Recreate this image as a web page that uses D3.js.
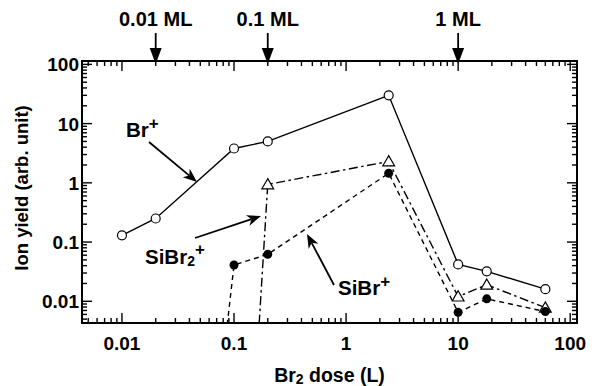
<!DOCTYPE html>
<html lang="en">
  <head>
    <meta charset="UTF-8" />
    <title>Ion yield vs Br2 dose</title>
    <style>
      body {
        margin: 0;
        padding: 0;
        background-color: #ffffff;
      }
      svg text {
        font-family: "Liberation Sans", Arial, sans-serif;
        font-weight: bold;
        fill: #000;
      }
    </style>
  </head>
  <body>
    <div id="plot"></div>

    <script src="https://d3js.org/d3.v7.min.js"></script>
    <script>
      // values (dose in L, yield in arb. unit)
      const doseBr = [0.01, 0.02, 0.1, 0.2, 2.4, 10, 18, 60];
      const brPlus = [0.13, 0.25, 3.8, 5.0, 30, 0.042, 0.032, 0.016];

      // first point of each Si series lies below the axis (line enters from bottom)
      const doseSiBr2 = [0.16, 0.2, 2.4, 10, 18, 60];
      const siBr2Plus = [0.001, 0.94, 2.3, 0.012, 0.019, 0.0078];

      const doseSiBr = [0.08, 0.1, 0.2, 2.4, 10, 18, 60];
      const siBrPlus = [0.001, 0.041, 0.062, 1.45, 0.0065, 0.011, 0.0067];

      const xTickValues = [0.01, 0.1, 1, 10, 100];
      const xTickLabels = ["0.01", "0.1", "1", "10", "100"];
      const yTickValues = [0.01, 0.1, 1, 10, 100];
      const yTickLabels = ["0.01", "0.1", "1", "10", "100"];

      const mlDose = [0.02, 0.2, 10];
      const mlLabels = ["0.01 ML", "0.1 ML", "1 ML"];

      const width = 592,
        height = 386;
      const pLeft = 82,
        pRight = 577,
        pTop = 61,
        pBottom = 323;

      const x = d3.scaleLog().domain([0.0044, 115]).range([pLeft, pRight]);
      const y = d3.scaleLog().domain([0.0043, 114]).range([pBottom, pTop]);

      const svg = d3
        .select("#plot")
        .append("svg")
        .attr("width", width)
        .attr("height", height);

      svg
        .append("clipPath")
        .attr("id", "clip")
        .append("rect")
        .attr("x", pLeft)
        .attr("y", pTop)
        .attr("width", pRight - pLeft)
        .attr("height", pBottom - pTop);

      // minor + major tick values inside a domain
      function logTicks(domain) {
        const out = [];
        for (let e = -3; e <= 2; e++) {
          for (let k = 1; k <= 9; k++) {
            const v = k * Math.pow(10, e);
            if (v >= domain[0] && v <= domain[1]) out.push({ v, major: k === 1 });
          }
        }
        return out;
      }

      const ticks = svg.append("g").attr("stroke", "#000").attr("stroke-width", 1.4);
      const majorLen = 10,
        minorLen = 5;

      logTicks(x.domain()).forEach((t) => {
        const px = x(t.v);
        const len = t.major ? majorLen : minorLen;
        ticks.append("line").attr("x1", px).attr("x2", px).attr("y1", pBottom).attr("y2", pBottom - len);
        ticks.append("line").attr("x1", px).attr("x2", px).attr("y1", pTop).attr("y2", pTop + len);
      });
      logTicks(y.domain()).forEach((t) => {
        const py = y(t.v);
        const len = t.major ? majorLen : minorLen;
        ticks.append("line").attr("x1", pLeft).attr("x2", pLeft + len).attr("y1", py).attr("y2", py);
        ticks.append("line").attr("x1", pRight).attr("x2", pRight - len).attr("y1", py).attr("y2", py);
      });

      svg
        .append("rect")
        .attr("x", pLeft)
        .attr("y", pTop)
        .attr("width", pRight - pLeft)
        .attr("height", pBottom - pTop)
        .attr("fill", "none")
        .attr("stroke", "#000")
        .attr("stroke-width", 2);

      // tick labels
      svg
        .selectAll("text.xtick")
        .data(xTickValues)
        .enter()
        .append("text")
        .attr("class", "xtick")
        .attr("x", (d) => x(d))
        .attr("y", 350)
        .attr("text-anchor", "middle")
        .style("font-size", "19px")
        .text((d, i) => xTickLabels[i]);

      svg
        .selectAll("text.ytick")
        .data(yTickValues)
        .enter()
        .append("text")
        .attr("class", "ytick")
        .attr("x", 79)
        .attr("y", (d) => y(d) + 7)
        .attr("text-anchor", "end")
        .style("font-size", "19px")
        .text((d, i) => yTickLabels[i]);

      // axis titles
      const xt = svg
        .append("text")
        .attr("x", (pLeft + pRight) / 2)
        .attr("y", 382)
        .attr("text-anchor", "middle")
        .style("font-size", "19.5px");
      xt.append("tspan").text("Br");
      xt.append("tspan").attr("dy", 2).style("font-size", "14px").text("2");
      xt.append("tspan").attr("dy", -2).text(" dose (L)");

      svg
        .append("text")
        .attr("transform", "translate(28,188) rotate(-90)")
        .attr("text-anchor", "middle")
        .style("font-size", "18.5px")
        .text("Ion yield (arb. unit)");

      // series lines
      const line = d3
        .line()
        .x((d) => x(d[0]))
        .y((d) => y(d[1]));

      const series = [
        { xs: doseBr, ys: brPlus, dash: null, marker: "open" },
        { xs: doseSiBr2, ys: siBr2Plus, dash: "9,3.5,2.5,3.5", marker: "tri" },
        { xs: doseSiBr, ys: siBrPlus, dash: "5,4", marker: "dot" },
      ];

      const plot = svg.append("g").attr("clip-path", "url(#clip)");

      series.forEach((s) => {
        const pts = s.xs.map((d, i) => [d, s.ys[i]]);
        plot
          .append("path")
          .attr("d", line(pts))
          .attr("fill", "none")
          .attr("stroke", "#000")
          .attr("stroke-width", 1.4)
          .attr("stroke-dasharray", s.dash);
      });

      series.forEach((s) => {
        const pts = s.xs
          .map((d, i) => [d, s.ys[i]])
          .filter((p) => p[1] >= y.domain()[0]);
        const g = svg.append("g");
        if (s.marker === "open") {
          g.selectAll("circle")
            .data(pts)
            .enter()
            .append("circle")
            .attr("cx", (d) => x(d[0]))
            .attr("cy", (d) => y(d[1]))
            .attr("r", 4.5)
            .attr("fill", "#fff")
            .attr("stroke", "#000")
            .attr("stroke-width", 1.2);
        } else if (s.marker === "dot") {
          g.selectAll("circle")
            .data(pts)
            .enter()
            .append("circle")
            .attr("cx", (d) => x(d[0]))
            .attr("cy", (d) => y(d[1]))
            .attr("r", 4.5)
            .attr("fill", "#000");
        } else {
          g.selectAll("path")
            .data(pts)
            .enter()
            .append("path")
            .attr("d", d3.symbol(d3.symbolTriangle, 60))
            .attr("transform", (d) => `translate(${x(d[0])},${y(d[1]) + 1})`)
            .attr("fill", "#fff")
            .attr("stroke", "#000")
            .attr("stroke-width", 1.2);
        }
      });

      // arrow with notched filled head
      function arrow(x1, y1, x2, y2) {
        const a = Math.atan2(y2 - y1, x2 - x1);
        const L = 14,
          W = 5.5,
          N = 10;
        const bx = x2 - L * Math.cos(a),
          by = y2 - L * Math.sin(a);
        const nx = x2 - N * Math.cos(a),
          ny = y2 - N * Math.sin(a);
        const px = -Math.sin(a),
          py = Math.cos(a);
        svg
          .append("line")
          .attr("x1", x1)
          .attr("y1", y1)
          .attr("x2", nx)
          .attr("y2", ny)
          .attr("stroke", "#000")
          .attr("stroke-width", 1.8);
        svg
          .append("path")
          .attr(
            "d",
            `M${x2},${y2}L${bx + W * px},${by + W * py}L${nx},${ny}L${bx - W * px},${by - W * py}Z`
          )
          .attr("fill", "#000");
      }

      // series annotations
      function ionLabel(tx, ty, base, sub) {
        const t = svg.append("text").attr("x", tx).attr("y", ty).style("font-size", "20.5px");
        t.append("tspan").text(base);
        if (sub) {
          t.append("tspan").attr("dy", 2).style("font-size", "14px").text(sub);
          t.append("tspan").attr("dy", -11).style("font-size", "17px").text("+");
        } else {
          t.append("tspan").attr("dy", -8).style("font-size", "17px").text("+");
        }
      }

      ionLabel(126, 137, "Br");
      arrow(149, 142, 197, 182);

      ionLabel(145, 264, "SiBr", "2");
      arrow(195, 238, 261, 216);

      ionLabel(338, 295, "SiBr");
      arrow(334, 285, 307, 234);

      // monolayer markers on top axis
      mlDose.forEach((d, i) => {
        const px = x(d);
        svg
          .append("line")
          .attr("x1", px)
          .attr("x2", px)
          .attr("y1", 33)
          .attr("y2", 52)
          .attr("stroke", "#000")
          .attr("stroke-width", 1.8);
        svg
          .append("path")
          .attr("d", `M${px - 6},${48}L${px + 6},${48}L${px},${64}Z`)
          .attr("fill", "#000");
        svg
          .append("text")
          .attr("x", px)
          .attr("y", 26)
          .attr("text-anchor", "middle")
          .style("font-size", "20px")
          .text(mlLabels[i]);
      });
    </script>
  </body>
</html>
